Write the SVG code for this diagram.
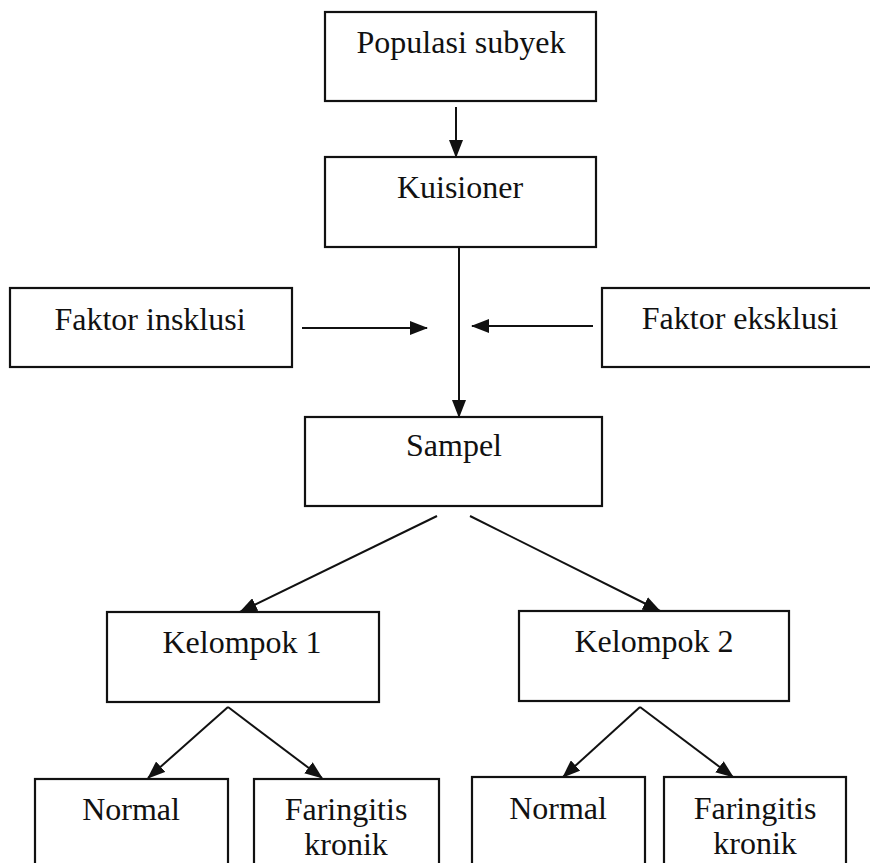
<svg xmlns="http://www.w3.org/2000/svg" width="870" height="863" viewBox="0 0 870 863">
<style>
.box{fill:#fff;stroke:#111;stroke-width:2.2}
.t{font-family:"Liberation Serif","Times New Roman",serif;font-size:32px;fill:#111;text-anchor:middle}
.c{stroke:#111;stroke-width:2;fill:none;marker-end:url(#ah)}
</style>
<defs>
<marker id="ah" markerUnits="userSpaceOnUse" markerWidth="18" markerHeight="14" refX="17" refY="7" orient="auto">
<path d="M0,0 L18,7 L0,14 z" fill="#111"/>
</marker>
</defs>
<rect width="870" height="863" fill="#fff"/>
<g id="populasi"><rect class="box" x="325" y="12" width="271" height="89"/><text class="t" x="461" y="53">Populasi subyek</text></g>
<g id="kuisioner"><rect class="box" x="325" y="157" width="271" height="90"/><text class="t" x="460" y="198">Kuisioner</text></g>
<g id="inklusi"><rect class="box" x="10" y="288" width="282" height="79"/><text class="t" x="150" y="330">Faktor insklusi</text></g>
<g id="eksklusi"><rect class="box" x="602" y="288" width="280" height="79"/><text class="t" x="740" y="329">Faktor eksklusi</text></g>
<g id="sampel"><rect class="box" x="305" y="417" width="297" height="89"/><text class="t" x="454" y="456">Sampel</text></g>
<g id="kelompok1"><rect class="box" x="107" y="612" width="272" height="90"/><text class="t" x="242" y="653">Kelompok 1</text></g>
<g id="kelompok2"><rect class="box" x="519" y="611" width="270" height="90"/><text class="t" x="654" y="652">Kelompok 2</text></g>
<g id="normal1"><rect class="box" x="35" y="779" width="193" height="110"/><text class="t" x="131" y="820">Normal</text></g>
<g id="faringitis1"><rect class="box" x="254" y="779" width="185" height="110"/><text class="t" x="346" y="820">Faringitis</text><text class="t" x="346" y="855">kronik</text></g>
<g id="normal2"><rect class="box" x="472" y="777" width="173" height="110"/><text class="t" x="558" y="819">Normal</text></g>
<g id="faringitis2"><rect class="box" x="664" y="777" width="182" height="110"/><text class="t" x="755" y="819">Faringitis</text><text class="t" x="755" y="854">kronik</text></g>
<g id="connectors">
<line class="c" x1="456" y1="107" x2="456" y2="157"/>
<line class="c" x1="459" y1="247" x2="459" y2="417"/>
<line class="c" x1="302" y1="328" x2="427" y2="328"/>
<line class="c" x1="593" y1="326" x2="472" y2="326"/>
<line class="c" x1="437" y1="516" x2="240" y2="612"/>
<line class="c" x1="470" y1="516" x2="660" y2="611"/>
<line class="c" x1="228" y1="707" x2="148" y2="778"/>
<line class="c" x1="228" y1="707" x2="322" y2="778"/>
<line class="c" x1="640" y1="707" x2="563" y2="777"/>
<line class="c" x1="640" y1="707" x2="733" y2="777"/>
</g>
</svg>
